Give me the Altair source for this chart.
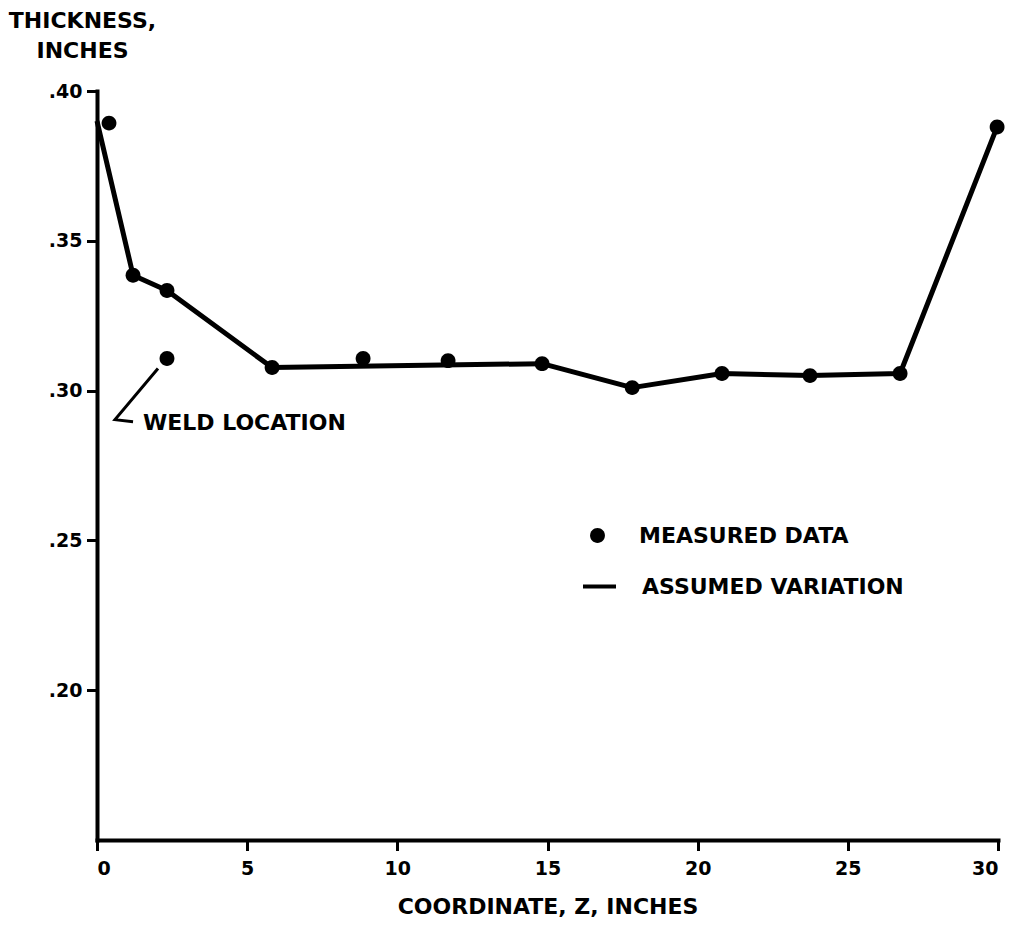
import altair as alt
import pandas as pd

# ---- data ----
meas_z = [0.4, 1.2, 2.33, 2.33, 5.83, 8.86, 11.69, 14.82, 17.82, 20.81, 23.74, 26.74, 29.97]
meas_t = [0.3893, 0.3385, 0.3334, 0.3107, 0.3077, 0.3107, 0.3100, 0.3090, 0.3010, 0.3057, 0.3050, 0.3057, 0.3880]

line_z = [0.0, 1.2, 2.33, 5.83, 14.82, 17.82, 20.81, 23.74, 26.74, 29.97]
line_t = [0.3900, 0.3385, 0.3334, 0.3077, 0.3090, 0.3010, 0.3057, 0.3050, 0.3057, 0.3880]

weld_z = [2.03, 0.6, 1.2]
weld_t = [0.3074, 0.2903, 0.2896]
weld_label = ["WELD LOCATION"]
weld_label_z = [1.53]
weld_label_t = [0.2893]

series = ["MEASURED DATA", "ASSUMED VARIATION"]
x_ticks = [0, 5, 10, 15, 20, 25, 30]
y_ticks = [0.20, 0.25, 0.30, 0.35, 0.40]

FONT = "DejaVu Sans"
CIRCLE = "M-0.45,0A0.45,0.45,0,1,1,0.45,0A0.45,0.45,0,1,1,-0.45,0Z"

meas_df = pd.DataFrame({"z": meas_z, "t": meas_t, "series": series[0]})
line_df = pd.DataFrame({"z": line_z, "t": line_t, "series": series[1]})
weld_df = pd.DataFrame({"z": weld_z, "t": weld_t, "i": list(range(len(weld_z)))})
label_df = pd.DataFrame({"z": weld_label_z, "t": weld_label_t, "txt": weld_label})

x_scale = alt.Scale(domain=[0, 30], nice=False, zero=False)
y_scale = alt.Scale(domain=[0.15, 0.40], nice=False, zero=False)

x_axis = alt.Axis(
    values=x_ticks, format="d", title="COORDINATE, Z, INCHES",
    titleY=66, titleBaseline="middle", titleAnchor="middle", labelPadding=10,
)
y_axis = alt.Axis(
    values=y_ticks, title=["THICKNESS,", "INCHES"],
    labelExpr="replace(format(datum.value, '.2f'), '0.', '.')",
    titleAngle=0, titleAlign="center", titleX=-15, titleY=-81,
    titleBaseline="top", titleLineHeight=30,
)

X = alt.X("z:Q", scale=x_scale, axis=x_axis)
Y = alt.Y("t:Q", scale=y_scale, axis=y_axis)

legend_common = dict(
    title=None, orient="none", padding=0,
    symbolSize=1089, symbolOpacity=1,
    labelFont=FONT, labelFontSize=22, labelFontWeight="bold", labelColor="black",
    labelOffset=24, labelLimit=400,
)

line = alt.Chart(line_df).mark_line(strokeWidth=5, strokeJoin="round").encode(
    x=X, y=Y,
    color=alt.Color(
        "series:N",
        scale=alt.Scale(domain=[series[1]], range=["black"]),
        legend=alt.Legend(legendX=484, legendY=477, symbolType="stroke", symbolStrokeWidth=4,
                          symbolStrokeColor="black", **legend_common),
    ),
)

points = alt.Chart(meas_df).mark_point(
    filled=True, color="black", opacity=1, size=1089
).encode(
    x="z:Q", y="t:Q",
    shape=alt.Shape(
        "series:N",
        scale=alt.Scale(domain=[series[0]], range=[CIRCLE]),
        legend=alt.Legend(legendX=483, legendY=427, symbolFillColor="black", **legend_common),
    ),
)

weld = alt.Chart(weld_df).mark_line(color="black", strokeWidth=3).encode(
    x="z:Q", y="t:Q", order="i:Q"
)

label = alt.Chart(label_df).mark_text(
    align="left", baseline="middle", font=FONT, fontSize=22, fontWeight="bold", color="black"
).encode(x="z:Q", y="t:Q", text="txt:N")

chart = alt.layer(line, points, weld, label).resolve_legend(
    color="independent", shape="independent"
).properties(
    width=901, height=749,
    background="white",
    autosize=alt.AutoSizeParams(type="none"),
    padding={"left": 89, "top": 83, "right": 10, "bottom": 80},
).configure_view(stroke=None).configure_axis(
    grid=False,
    domainColor="black", domainWidth=4, domainCap="square",
    tickColor="black", tickWidth=3, tickSize=9, tickCap="square",
    labelFont=FONT, labelFontSize=19, labelFontWeight="bold", labelColor="black",
    labelPadding=6,
    titleFont=FONT, titleFontSize=22, titleFontWeight="bold", titleColor="black",
)

chart.save("out.html", embed_options={"renderer": "svg", "actions": False})
